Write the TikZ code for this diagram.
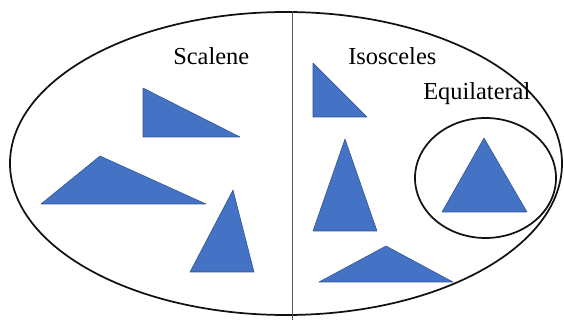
\documentclass[tikz,border=0pt]{standalone}
\usepackage{fontspec}
\setmainfont{Liberation Serif}
\usetikzlibrary{positioning}
\definecolor{ink}{HTML}{111111}
\definecolor{tblue}{HTML}{4472C4}
\definecolor{tedge}{HTML}{2F528F}
\tikzset{tri/.style={fill=tblue, draw=tedge, line width=0.4pt, line join=round},
  setline/.style={ink, line width=1.3pt},
  lbl/.style={font=\fontsize{18.3}{20}\selectfont, inner sep=0pt, anchor=base west}}
\begin{document}
\begin{tikzpicture}[x=0.75pt, y=-0.75pt]
  \useasboundingbox (0,0) rectangle (564,320);
  \draw[setline] (286,163.5) ellipse [x radius=276, y radius=151.5];
  \draw[ink!70, line width=0.7pt] (292,11) -- (292,320);
  \draw[setline] (485.5,178) ellipse [x radius=70.5, y radius=60];
  % labels
  \node[lbl] (scalene) at (173,65) {Scalene};
  \node[lbl] (isosceles) at (348,65) {Isosceles};
  \node[lbl] (equilateral) at (423,100) {Equilateral};
  % scalene
  \fill[tri] (143,88) -- (143,137) -- (240,137) -- cycle;
  \fill[tri] (100,156) -- (41,204) -- (206,204) -- cycle;
  \fill[tri] (233,190) -- (190,272) -- (254,272) -- cycle;
  % isosceles
  \fill[tri] (313,63) -- (313,117) -- (367,117) -- cycle;
  \fill[tri] (345,139) -- (313,231) -- (377,231) -- cycle;
  \fill[tri] (386,246) -- (319,282) -- (453,282) -- cycle;
  % equilateral
  \fill[tri] (484,138) -- (442,212) -- (527,212) -- cycle;
\end{tikzpicture}
\end{document}
